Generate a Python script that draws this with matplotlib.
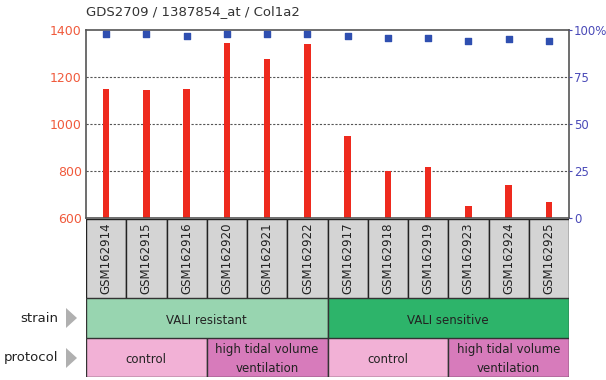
import matplotlib.pyplot as plt
from matplotlib.patches import Rectangle, Polygon

samples = ['GSM162914', 'GSM162915', 'GSM162916', 'GSM162920', 'GSM162921', 'GSM162922',
           'GSM162917', 'GSM162918', 'GSM162919', 'GSM162923', 'GSM162924', 'GSM162925']
counts = [1150, 1145, 1150, 1345, 1275, 1340, 950, 800, 815, 650, 740, 670]
percentiles = [98, 98, 97, 98, 98, 98, 97, 96, 96, 94, 95, 94]

strain_groups = [('VALI resistant', 6, '#98d5b0'), ('VALI sensitive', 6, '#2db46a')]
protocol_groups = [('control', 3, '#f2b1d6'), ('high tidal volume\nventilation', 3, '#d77bbb'),
                   ('control', 3, '#f2b1d6'), ('high tidal volume\nventilation', 3, '#d77bbb')]

W, H = 606, 380
fig = plt.figure(figsize=(W / 100, H / 100), dpi=100)

def px_axes(x0, y0, x1, y1):
    return fig.add_axes([x0 / W, 1 - y1 / H, (x1 - x0) / W, (y1 - y0) / H])

left, right = 86, 569
n = len(samples)

# main chart
ax = px_axes(left, 30, right, 218)
ax.bar(range(n), [c - 600 for c in counts], bottom=600, width=0.16, color='#ee2a1e')
ax.set_xlim(-0.5, n - 0.5)
ax.set_ylim(600, 1400)
ax.set_yticks([600, 800, 1000, 1200, 1400])
ax.tick_params(axis='y', colors='#f05a3c', labelsize=9, length=0, pad=3)
ax.set_xticks([])
for y in [800, 1000, 1200]:
    ax.axhline(y, color='#555555', lw=0.8, ls=(0, (2, 1.5)), zorder=0)
for s in ax.spines.values():
    s.set_color('#555555')
    s.set_linewidth(1.2)

ax2 = ax.twinx()
ax2.scatter(range(n), percentiles, marker='s', s=18, color='#2f4fb0', zorder=3)
ax2.set_ylim(0, 100)
ax2.set_yticks([0, 25, 50, 75, 100])
ax2.set_yticklabels(['0', '25', '50', '75', '100%'])
ax2.tick_params(axis='y', colors='#4a4ab8', labelsize=8.5, length=2, pad=1.5)
for s in ax2.spines.values():
    s.set_visible(False)

fig.text(left / W, 1 - 12 / H, 'GDS2709 / 1387854_at / Col1a2', fontsize=9.5,
         color='#333333', va='center', ha='left')

# sample label boxes
axl = px_axes(left, 219, right, 298)
axl.set_xlim(-0.5, n - 0.5)
axl.set_ylim(0, 1)
axl.axis('off')
for i, s in enumerate(samples):
    axl.add_patch(Rectangle((i - 0.5, 0), 1, 1, facecolor='#d4d4d4', edgecolor='#222222', lw=1))
    axl.text(i, 0.5, s, rotation=90, ha='center', va='center', fontsize=8.5, color='#222222')

def group_row(y0, y1, groups):
    a = px_axes(left, y0, right, y1)
    a.set_xlim(-0.5, n - 0.5)
    a.set_ylim(0, 1)
    a.axis('off')
    start = -0.5
    for name, size, col in groups:
        a.add_patch(Rectangle((start, 0), size, 1, facecolor=col, edgecolor='#333333', lw=1))
        a.text(start + size / 2, 0.45, name, ha='center', va='center', fontsize=8.5,
               color='#222222', linespacing=1.6)
        start += size

group_row(298, 338, strain_groups)
group_row(338, 377, protocol_groups)

# row labels with arrows
for label, yc in [('strain', 318), ('protocol', 358)]:
    fig.text(58 / W, 1 - yc / H, label, ha='right', va='center', fontsize=9.5, color='#222222')
    tri = Polygon([[66 / W, 1 - (yc - 10) / H], [66 / W, 1 - (yc + 10) / H], [77 / W, 1 - yc / H]],
                  closed=True, transform=fig.transFigure, facecolor='#b0b0b0', edgecolor='none')
    fig.patches.append(tri)

fig.savefig('out.png', dpi=100)
